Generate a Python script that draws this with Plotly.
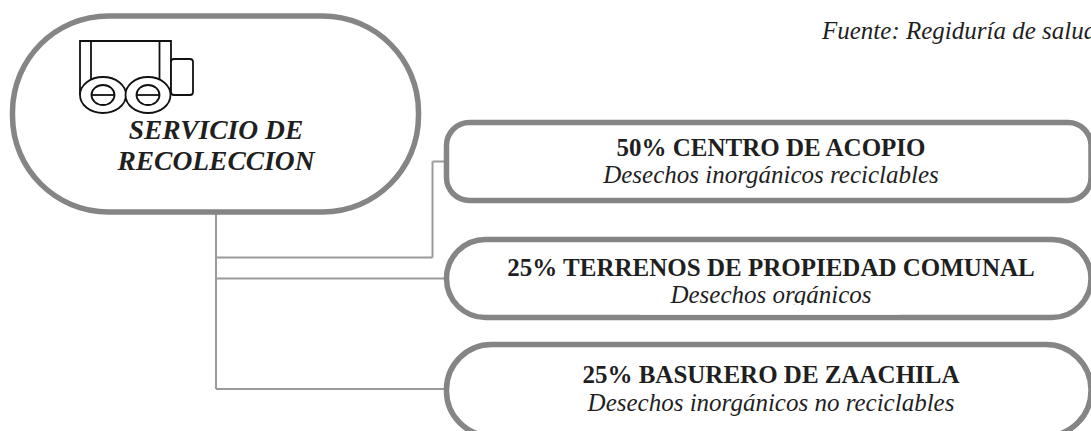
import plotly.graph_objects as go

# Diagram content
main_label = ["SERVICIO DE", "RECOLECCION"]
source_label = "Fuente: Regiduría de salud"
destination_titles = ["50% CENTRO DE ACOPIO", "25% TERRENOS DE PROPIEDAD COMUNAL", "25% BASURERO DE ZAACHILA"]
destination_notes = ["Desechos inorgánicos reciclables", "Desechos orgánicos", "Desechos inorgánicos no reciclables"]

W, H = 1091, 431
BORDER = "#858585"
LINK = "#9a9a9a"
INK = "#1f1f1f"
K = 0.5523


def rrect(x0, y0, x1, y1, r):
    c = r * (1 - K)
    return (f"M{x0+r},{y0} L{x1-r},{y0} C{x1-c},{y0} {x1},{y0+c} {x1},{y0+r} "
            f"L{x1},{y1-r} C{x1},{y1-c} {x1-c},{y1} {x1-r},{y1} "
            f"L{x0+r},{y1} C{x0+c},{y1} {x0},{y1-c} {x0},{y1-r} "
            f"L{x0},{y0+r} C{x0},{y0+c} {x0+c},{y0} {x0+r},{y0} Z")


def box(x0, y0, x1, y1, r, width=5.5, color=BORDER, fill="white"):
    return dict(type="path", path=rrect(x0, y0, x1, y1, r), xref="x", yref="y",
                line=dict(color=color, width=width), fillcolor=fill, layer="below")


def ell(cx, cy, rx, ry, width=1.8, fill="white"):
    return dict(type="circle", x0=cx-rx, x1=cx+rx, y0=cy-ry, y1=cy+ry, xref="x", yref="y",
                line=dict(color="#111", width=width), fillcolor=fill, layer="below")


def seg(x0, y0, x1, y1, color="#111", width=1.8):
    return dict(type="line", x0=x0, y0=y0, x1=x1, y1=y1, xref="x", yref="y",
                line=dict(color=color, width=width), layer="below")


shapes = [
    # connectors
    seg(216, 212, 216, 389, LINK, 2),
    seg(216, 257.5, 432.5, 257.5, LINK, 2),
    seg(432.5, 257.5, 432.5, 161.5, LINK, 2),
    seg(432.5, 161.5, 446, 161.5, LINK, 2),
    seg(216, 278.5, 446, 278.5, LINK, 2),
    seg(216, 389, 446, 389, LINK, 2),
    # boxes
    box(12.5, 16, 418.5, 212, 96),
    box(446.5, 122.5, 1091, 200.5, 23),
    box(446.5, 239.5, 1091, 317.5, 39),
    box(446.5, 344.5, 1091, 436, 45),
    # truck
    dict(type="path", path="M80,95 L80,41 L171,41 L171,95", xref="x", yref="y",
         line=dict(color="#111", width=1.8), layer="below"),
    seg(91, 41, 91, 80), seg(159.5, 41, 159.5, 80),
    box(171, 59, 193, 95, 3, 1.8, "#111"),
    ell(103, 95, 23, 18), ell(148, 95, 22.5, 18),
    ell(103, 95, 11.5, 10), ell(148, 95, 11.5, 10),
    seg(91.5, 95, 114.5, 95), seg(136.5, 95, 159.5, 95),
    # mask that trims the descender of the middle note, as in the source
    dict(type="rect", x0=640, x1=900, y0=305, y1=314.5, xref="x", yref="y",
         line=dict(width=0), fillcolor="white", layer="above"),
]

fig = go.Figure()


def label(x, y, s, size, bold=False, italic=False, pos="middle center"):
    fig.add_trace(go.Scatter(
        x=[x], y=[y], mode="text", text=[s], textposition=pos, hoverinfo="skip", showlegend=False,
        textfont=dict(family="Liberation Serif", size=size, color=INK,
                      weight="bold" if bold else "normal", style="italic" if italic else "normal")))


label(216, 132, main_label[0], 27.5, True, True)
label(216, 163, main_label[1], 27.5, True, True)
label(822, 33, source_label, 25, False, True, "middle right")
for title, note, cx, ty, ny in zip(destination_titles, destination_notes,
                                    [771, 771, 771], [150, 270, 377], [177, 297, 405]):
    label(cx, ty, title, 25, True)
    label(cx, ny, note, 25, False, True)

fig.update_layout(
    width=W, height=H, margin=dict(l=0, r=0, t=0, b=0),
    paper_bgcolor="white", plot_bgcolor="white", shapes=shapes, showlegend=False,
    xaxis=dict(range=[0, W], visible=False, fixedrange=True),
    yaxis=dict(range=[H, 0], visible=False, fixedrange=True),
)
fig.write_html("out.html", config={"displayModeBar": False},
               post_script="document.body.style.margin='0';document.documentElement.style.overflow='hidden';")
